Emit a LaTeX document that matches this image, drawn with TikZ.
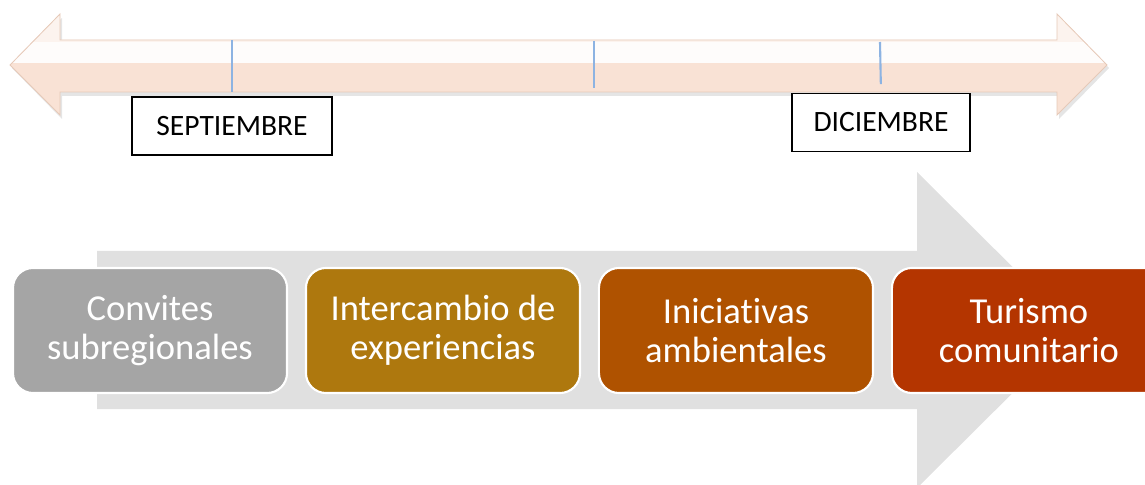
\documentclass[tikz,border=0pt]{standalone}
\usepackage{fontspec}
\setmainfont[Ligatures=NoCommon]{Carlito}
\usetikzlibrary{positioning}

\definecolor{fondo}{HTML}{E0E0E0}
\definecolor{gris}{HTML}{A5A5A5}
\definecolor{ocre}{HTML}{AE780E}
\definecolor{naranja}{HTML}{AF5200}
\definecolor{rojizo}{HTML}{B43500}
\definecolor{durazno}{HTML}{F9E2D5}
\definecolor{borde}{HTML}{E6C9B8}
\definecolor{marca}{HTML}{8DB3E2}

\tikzset{
	etapa/.style={draw=white, line width=1.5pt, rounded corners=0.5cm, minimum width=6.85cm, minimum height=3.125cm, inner sep=0pt, align=center, text=white, font=\fontsize{26}{28}\selectfont},
	mes/.style={draw=black, line width=1.4pt, fill=white, minimum height=1.45cm, inner sep=0pt, font=\fontsize{21}{24}\selectfont},
	marcas/.style={draw=marca, line width=1.5pt}
}

\begin{document}
\begin{tikzpicture}[x=0.025cm, y=-0.025cm]
	\useasboundingbox (0,0) rectangle (1145,485);
	\clip (0,0) rectangle (1145,485);
	% flecha grande de fondo
	\fill[fondo] (97,251) -- (917,251) -- (917,172) -- (1076,330) -- (917,488) -- (917,409) -- (97,409) -- cycle;
	% linea de tiempo
	\fill[black, opacity=0.1] (12,68) -- (62,18) -- (62,44) -- (1059,44) -- (1059,18) -- (1109,68) -- (1059,119) -- (1059,96) -- (62,96) -- (62,119) -- cycle;
	\begin{scope}
		\clip (10,65) -- (60,14) -- (60,40) -- (1057,40) -- (1057,14) -- (1107,65) -- (1057,115) -- (1057,92) -- (60,92) -- (60,115) -- cycle;
		\fill[durazno] (0,0) rectangle (1145,130);
		\fill[white, opacity=0.92] (0,42) rectangle (1145,63);
		\fill[white, opacity=0.6] (0,0) rectangle (1145,42);
	\end{scope}
	\draw[borde, line width=0.6pt] (10,65) -- (60,14) -- (60,40) -- (1057,40) -- (1057,14) -- (1107,65) -- (1057,115) -- (1057,92) -- (60,92) -- (60,115) -- cycle;
	% meses
	\node[mes, minimum width=5cm] (m1) at (232,126) {SEPTIEMBRE};
	\node[mes, minimum width=4.45cm] (m2) at (881,122.5) {DICIEMBRE};
	\coordinate (t1) at (232,40);
	\coordinate (t2) at (594,41);
	\coordinate (t3) at (594,88);
	\coordinate (t4) at (880,42);
	\draw[marcas, shorten >=3pt] (t1) -- (m1.north);
	\draw[marcas] (t2) -- (t3);
	\draw[marcas, shorten >=6pt] (t4) -- (m2.north);
	% etapas
	\node[etapa, fill=gris] (b1) at (150,330.5) {Convites\\subregionales};
	\node[etapa, fill=ocre, right=0.42cm of b1] (b2) {Intercambio de\\experiencias};
	\node[etapa, fill=naranja, right=0.42cm of b2] (b3) {Iniciativas\\ambientales};
	\node[etapa, fill=rojizo, right=0.42cm of b3] (b4) {Turismo\\comunitario};
\end{tikzpicture}
\end{document}
